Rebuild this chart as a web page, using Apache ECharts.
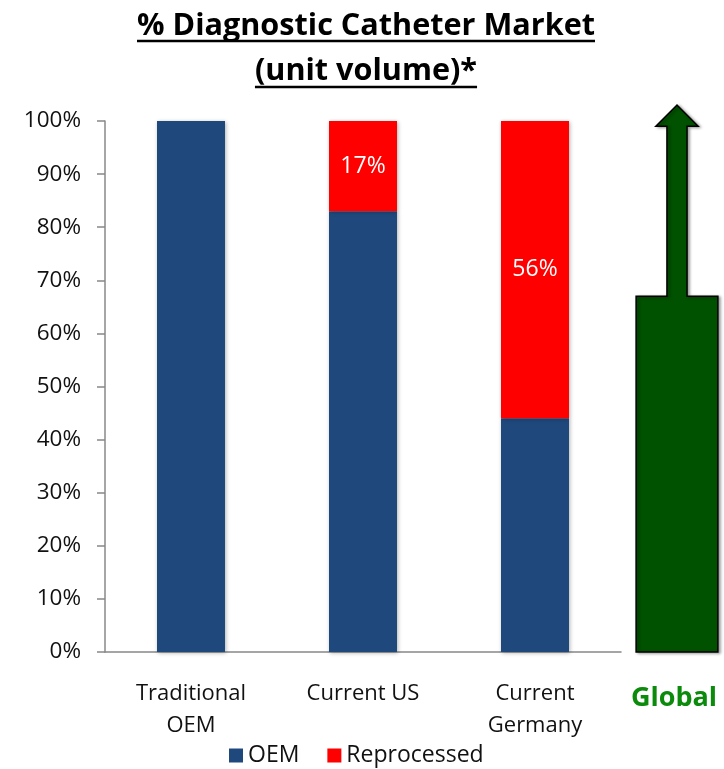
<!DOCTYPE html>
<html>
<head>
<meta charset="utf-8">
<script src="https://cdn.jsdelivr.net/npm/echarts@6/dist/echarts.min.js"></script>
<style>html,body{margin:0;padding:0;background:#fff}#c{width:724px;height:769px}</style>
</head>
<body>
<div id="c"></div>
<script>
const categories = ['Traditional\nOEM', 'Current US', 'Current\nGermany'];
const oemValues = [100, 83, 44];
const reprocessedValues = [0, 17, 56];
const yTicks = [0, 10, 20, 30, 40, 50, 60, 70, 80, 90, 100];
const globalCategory = ['Global'];
const arrowBaseTop = [67];
const arrowShaftTop = [99];
const arrowTip = [103];
const titleLines = ['% Diagnostic Catheter Market', '(unit volume)*'];

const FONT = '"Open Sans", "Liberation Sans", sans-serif';
const titleSize = 30.6;
const titleFont = 'bold ' + titleSize + 'px ' + FONT;
const ctx = document.createElement('canvas').getContext('2d');
ctx.font = titleFont;
const w1 = ctx.measureText(titleLines[0]).width;
const w2 = ctx.measureText(titleLines[1]).width;
const cx = 366;

const chart = echarts.init(document.getElementById('c'));
chart.setOption({
  animation: false,
  backgroundColor: '#fff',
  grid: [
    { left: 105, right: 103, top: 121, bottom: 117 },
    { left: 627, right: 3, top: 121, bottom: 117 }
  ],
  legend: {
    data: ['OEM', 'Reprocessed'],
    left: 224, top: 739,
    itemWidth: 14, itemHeight: 14, itemGap: 28,
    icon: 'rect',
    textStyle: { fontFamily: FONT, fontSize: 23, color: '#111' }
  },
  xAxis: [{
    type: 'category', gridIndex: 0, data: categories,
    axisLine: { lineStyle: { color: '#888', width: 1.5 } },
    axisTick: { length: 7, lineStyle: { color: '#888', width: 1.5 } },
    axisLabel: { fontFamily: FONT, fontSize: 22, color: '#111', lineHeight: 32, margin: 26, interval: 0 }
  }, {
    type: 'category', gridIndex: 1, data: globalCategory,
    axisLine: { show: false }, axisTick: { show: false },
    axisLabel: { fontFamily: FONT, fontSize: 27, fontWeight: 'bold', color: '#0b8a0b', margin: 33 }
  }],
  yAxis: [{
    type: 'value', gridIndex: 0, min: 0, max: 100, interval: 10,
    axisLine: { show: true, lineStyle: { color: '#888', width: 1.5 } },
    axisTick: { show: true, length: 8, lineStyle: { color: '#888', width: 1.5 } },
    splitLine: { show: false },
    axisLabel: {
      fontFamily: FONT, fontSize: 22.5, color: '#111', margin: 24,
      formatter: v => yTicks.indexOf(v) >= 0 ? v + '%' : ''
    }
  }, {
    type: 'value', gridIndex: 1, min: 0, max: 100, show: false
  }],
  series: [{
    name: 'OEM', type: 'bar', stack: 'a', xAxisIndex: 0, yAxisIndex: 0,
    data: oemValues, barWidth: 68,
    itemStyle: { color: '#1f497d', shadowColor: 'rgba(0,0,0,0.3)', shadowBlur: 4, shadowOffsetX: 1, shadowOffsetY: 1 }
  }, {
    name: 'Reprocessed', type: 'bar', stack: 'a', xAxisIndex: 0, yAxisIndex: 0,
    data: reprocessedValues, barWidth: 68,
    itemStyle: { color: '#ff0000', shadowColor: 'rgba(0,0,0,0.3)', shadowBlur: 4, shadowOffsetX: 1, shadowOffsetY: 1 },
    label: {
      show: true, position: 'inside', color: '#fff', fontFamily: FONT, fontSize: 23,
      formatter: p => p.value > 0 ? p.value + '%' : ''
    }
  }, {
    name: 'Global', type: 'custom', xAxisIndex: 1, yAxisIndex: 1, clip: false,
    data: [[0, arrowBaseTop[0], arrowShaftTop[0], arrowTip[0]]],
    renderItem: function (params, api) {
      const band = api.size([1, 0])[0];
      const c0 = api.coord([api.value(0), 0]);
      const xc = c0[0] + 3;
      const y0 = c0[1];
      const yb = api.coord([api.value(0), api.value(1)])[1];
      const ys = api.coord([api.value(0), api.value(2)])[1];
      const yt = api.coord([api.value(0), api.value(3)])[1];
      const hb = band * 0.435, hs = band * 0.107, hh = band * 0.225;
      return {
        type: 'polygon',
        shape: { points: [
          [xc - hb, y0], [xc + hb, y0], [xc + hb, yb], [xc + hs, yb], [xc + hs, ys],
          [xc + hh, ys], [xc, yt], [xc - hh, ys], [xc - hs, ys], [xc - hs, yb], [xc - hb, yb]
        ] },
        style: { fill: '#005100', stroke: '#000', lineWidth: 1.5, shadowColor: 'rgba(0,0,0,0.35)', shadowBlur: 3, shadowOffsetX: 2, shadowOffsetY: 1 }
      };
    }
  }],
  graphic: [
    { type: 'text', style: { text: titleLines[0], x: cx, y: 26, font: titleFont, fill: '#000', align: 'center', verticalAlign: 'middle' } },
    { type: 'line', shape: { x1: cx - w1 / 2, y1: 41, x2: cx + w1 / 2, y2: 41 }, style: { stroke: '#000', lineWidth: 2.5 } },
    { type: 'text', style: { text: titleLines[1], x: cx, y: 71, font: titleFont, fill: '#000', align: 'center', verticalAlign: 'middle' } },
    { type: 'line', shape: { x1: cx - w2 / 2, y1: 87, x2: cx + w2 / 2, y2: 87 }, style: { stroke: '#000', lineWidth: 2.5 } }
  ]
});
</script>
</body>
</html>
